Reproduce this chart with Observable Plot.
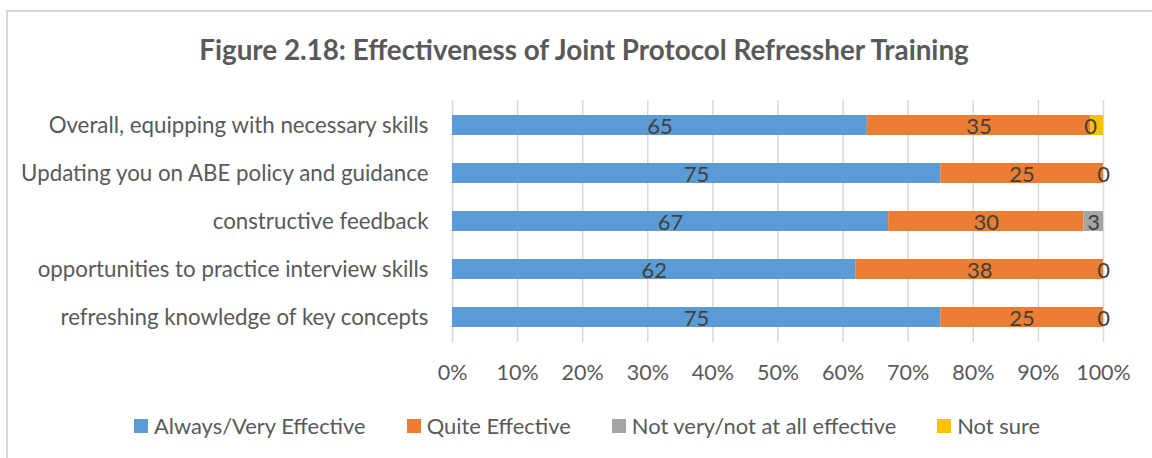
<!DOCTYPE html>
<html>
<head>
<meta charset="utf-8">
<script src="https://cdn.jsdelivr.net/npm/d3@7"></script>
<script src="https://cdn.jsdelivr.net/npm/@observablehq/plot@0.6"></script>
<style>
  html, body { margin: 0; padding: 0; background: #fff; }
  #wrap { position: relative; width: 1152px; height: 458px; overflow: hidden; background: #fff; font-family: Lato, "Open Sans", sans-serif; }
  #border { position: absolute; left: 6px; top: 10px; width: 1200px; height: 500px; border-top: 2px solid #d9d9d9; border-left: 2px solid #d9d9d9; }
  #chart { position: absolute; left: 0; top: 0; }
  #title { position: absolute; left: 7px; width: 1154px; top: 32px; text-align: center; font-weight: bold; font-size: 27.8px; color: #595959; line-height: 36px; }
  #legend { position: absolute; left: 0; width: 1174px; top: 412px; display: flex; justify-content: center; gap: 41px; font-size: 21.9px; color: #595959; line-height: 28px; }
  .item { display: flex; align-items: center; gap: 6px; }
  .sw { width: 14px; height: 14px; display: inline-block; }
</style>
</head>
<body>
<div id="wrap">
  <div id="border"></div>
  <div id="chart"></div>
  <div id="title"></div>
  <div id="legend"></div>
</div>
<script>
const title = "Figure 2.18: Effectiveness of Joint Protocol Refressher Training";
const categories = [
  "Overall, equipping with necessary skills",
  "Updating you on ABE policy and guidance",
  "constructive feedback",
  "opportunities to practice interview skills",
  "refreshing knowledge of key concepts"
];
const series = ["Always/Very Effective", "Quite Effective", "Not very/not at all effective", "Not sure"];
const alwaysVery = [65, 75, 67, 62, 75];
const quiteEffective = [35, 25, 30, 38, 25];
const notVery = [0, 0, 3, 0, 0];
const notSure = [2, 0, 0, 0, 0];
const labelledSeries = ["Always/Very Effective", "Quite Effective", "Not very/not at all effective"];
const colors = ["#5B9BD5", "#ED7D31", "#A5A5A5", "#FFC000"];
const xTicks = [0, 0.1, 0.2, 0.3, 0.4, 0.5, 0.6, 0.7, 0.8, 0.9, 1.0];

const valuesBySeries = [alwaysVery, quiteEffective, notVery, notSure];
const rows = [];
categories.forEach((c, i) => {
  series.forEach((s, j) => rows.push({category: c, series: s, value: valuesBySeries[j][i]}));
});

document.getElementById("title").textContent = title;

const chart = Plot.plot({
  width: 1152,
  height: 458,
  marginLeft: 452,
  marginRight: 49,
  marginTop: 100,
  marginBottom: 116,
  style: {fontFamily: "Lato, 'Open Sans', sans-serif", fontSize: "21.5px", color: "#595959", background: "transparent"},
  x: {domain: [0, 1]},
  y: {domain: categories, paddingInner: 0.587, paddingOuter: 0.2935, label: null},
  color: {domain: series, range: colors},
  marks: [
    Plot.gridX(xTicks, {stroke: "#d9d9d9", strokeOpacity: 1, strokeWidth: 1.5}),
    Plot.barX(rows, Plot.stackX({offset: "normalize", order: series}, {x: "value", y: "category", fill: "series"})),
    Plot.text(rows, Plot.stackX({offset: "normalize", order: series}, {
      x: "value", y: "category", z: "series",
      text: d => labelledSeries.includes(d.series) ? String(d.value) : "",
      fill: "#404040", dy: 1, fontSize: 22
    })),
    Plot.axisX({ticks: xTicks, tickFormat: d3.format(".0%"), tickSize: 0, tickPadding: 22, label: null, fill: "#595959", fontSize: 21.5}),
    Plot.axisY({tickSize: 0, tickPadding: 24, label: null, fill: "#595959", fontSize: 22.3})
  ]
});
document.getElementById("chart").appendChild(chart);

const legend = document.getElementById("legend");
series.forEach((s, j) => {
  const item = document.createElement("div");
  item.className = "item";
  const sw = document.createElement("span");
  sw.className = "sw";
  sw.style.background = colors[j];
  const t = document.createElement("span");
  t.textContent = s;
  item.appendChild(sw);
  item.appendChild(t);
  legend.appendChild(item);
});
</script>
</body>
</html>
